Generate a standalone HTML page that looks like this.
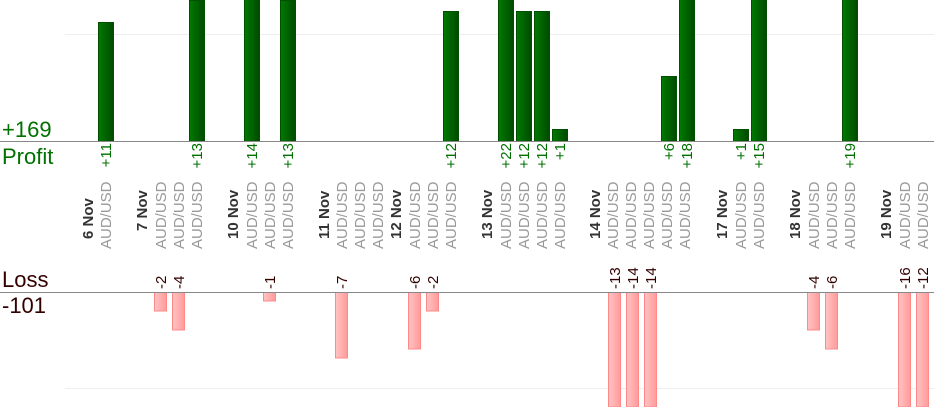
<!DOCTYPE html>
<html><head><meta charset="utf-8"><style>
html,body{margin:0;padding:0;background:#fff;}
svg{display:block;font-family:"Liberation Sans",sans-serif;}
</style></head><body>
<svg width="934" height="420" viewBox="0 0 934 420" xmlns="http://www.w3.org/2000/svg">
<defs>
<linearGradient id="g" x1="0" x2="1" y1="0" y2="0"><stop offset="0" stop-color="#007a00"/><stop offset="1" stop-color="#004a00"/></linearGradient>
<linearGradient id="r" x1="0" x2="1" y1="0" y2="0"><stop offset="0" stop-color="#ffc4c4"/><stop offset="1" stop-color="#ff9a9a"/></linearGradient>
<clipPath id="top"><rect x="0" y="0" width="934" height="141"/></clipPath>
<clipPath id="bot"><rect x="0" y="292" width="934" height="115"/></clipPath>
</defs>
<line x1="65" y1="34.5" x2="934" y2="34.5" stroke="#eee"/>
<line x1="65" y1="388.5" x2="934" y2="388.5" stroke="#eee"/>
<g clip-path="url(#top)" fill="url(#g)" stroke="#005000" stroke-width="1">
<rect x="98.5" y="22.5" width="15" height="119"/>
<rect x="189.5" y="0.5" width="15" height="141"/>
<rect x="244.5" y="-2" width="15" height="144"/>
<rect x="280.5" y="0.5" width="15" height="141"/>
<rect x="443.5" y="11.5" width="15" height="130"/>
<rect x="498.5" y="-2" width="15" height="144"/>
<rect x="516.5" y="11.5" width="15" height="130"/>
<rect x="534.5" y="11.5" width="15" height="130"/>
<rect x="552.5" y="129.5" width="15" height="12"/>
<rect x="661.5" y="76.5" width="15" height="65"/>
<rect x="679.5" y="-2" width="15" height="144"/>
<rect x="733.5" y="129.5" width="15" height="12"/>
<rect x="751.5" y="-2" width="15" height="144"/>
<rect x="842.5" y="-2" width="15" height="144"/>
</g>
<g clip-path="url(#bot)" fill="url(#r)" stroke="#ff8888" stroke-width="1">
<rect x="154.5" y="291" width="12" height="20"/>
<rect x="172.5" y="291" width="12" height="39"/>
<rect x="263.5" y="291" width="12" height="10"/>
<rect x="335.5" y="291" width="12" height="67"/>
<rect x="408.5" y="291" width="12" height="58"/>
<rect x="426.5" y="291" width="12" height="20"/>
<rect x="608.5" y="291" width="12" height="116"/>
<rect x="626.5" y="291" width="12" height="116"/>
<rect x="644.5" y="291" width="12" height="116"/>
<rect x="807.5" y="291" width="12" height="39"/>
<rect x="825.5" y="291" width="12" height="58"/>
<rect x="898.5" y="291" width="12" height="116"/>
<rect x="916.5" y="291" width="12" height="116"/>
</g>
<line x1="0" y1="141.5" x2="934" y2="141.5" stroke="#888"/>
<line x1="0" y1="292.5" x2="934" y2="292.5" stroke="#888"/>
<text x="2" y="137" font-size="22" fill="#007000">+169</text>
<text x="2" y="164" font-size="22" fill="#007000">Profit</text>
<text x="2" y="287" font-size="22" fill="#300">Loss</text>
<text x="2" y="313" font-size="22" fill="#300">-101</text>
<g font-size="15" fill="#007000" text-anchor="end">
<text transform="translate(111,143) rotate(-90)">+11</text>
<text transform="translate(202,143) rotate(-90)">+13</text>
<text transform="translate(257,143) rotate(-90)">+14</text>
<text transform="translate(293,143) rotate(-90)">+13</text>
<text transform="translate(456,143) rotate(-90)">+12</text>
<text transform="translate(511,143) rotate(-90)">+22</text>
<text transform="translate(529,143) rotate(-90)">+12</text>
<text transform="translate(547,143) rotate(-90)">+12</text>
<text transform="translate(565,143) rotate(-90)">+1</text>
<text transform="translate(674,143) rotate(-90)">+6</text>
<text transform="translate(692,143) rotate(-90)">+18</text>
<text transform="translate(746,143) rotate(-90)">+1</text>
<text transform="translate(764,143) rotate(-90)">+15</text>
<text transform="translate(855,143) rotate(-90)">+19</text>
</g>
<g font-size="15" fill="#300" text-anchor="start">
<text transform="translate(166,289) rotate(-90)">-2</text>
<text transform="translate(184,289) rotate(-90)">-4</text>
<text transform="translate(275,289) rotate(-90)">-1</text>
<text transform="translate(347,289) rotate(-90)">-7</text>
<text transform="translate(420,289) rotate(-90)">-6</text>
<text transform="translate(438,289) rotate(-90)">-2</text>
<text transform="translate(620,289) rotate(-90)">-13</text>
<text transform="translate(638,289) rotate(-90)">-14</text>
<text transform="translate(656,289) rotate(-90)">-14</text>
<text transform="translate(819,289) rotate(-90)">-4</text>
<text transform="translate(837,289) rotate(-90)">-6</text>
<text transform="translate(910,289) rotate(-90)">-16</text>
<text transform="translate(928,289) rotate(-90)">-12</text>
</g>
<g font-size="15" font-weight="bold" fill="#333" text-anchor="start">
<text transform="translate(93,239) rotate(-90)">6 Nov</text>
<text transform="translate(147,231) rotate(-90)">7 Nov</text>
<text transform="translate(238,239) rotate(-90)">10 Nov</text>
<text transform="translate(329,239) rotate(-90)">11 Nov</text>
<text transform="translate(401,239) rotate(-90)">12 Nov</text>
<text transform="translate(492,239) rotate(-90)">13 Nov</text>
<text transform="translate(600,239) rotate(-90)">14 Nov</text>
<text transform="translate(727,239) rotate(-90)">17 Nov</text>
<text transform="translate(800,239) rotate(-90)">18 Nov</text>
<text transform="translate(891,239) rotate(-90)">19 Nov</text>
</g>
<g font-size="15" fill="#999" text-anchor="start">
<text transform="translate(111,249) rotate(-90)">AUD/USD</text>
<text transform="translate(166,249) rotate(-90)">AUD/USD</text>
<text transform="translate(184,249) rotate(-90)">AUD/USD</text>
<text transform="translate(202,249) rotate(-90)">AUD/USD</text>
<text transform="translate(257,249) rotate(-90)">AUD/USD</text>
<text transform="translate(275,249) rotate(-90)">AUD/USD</text>
<text transform="translate(293,249) rotate(-90)">AUD/USD</text>
<text transform="translate(347,249) rotate(-90)">AUD/USD</text>
<text transform="translate(365,249) rotate(-90)">AUD/USD</text>
<text transform="translate(383,249) rotate(-90)">AUD/USD</text>
<text transform="translate(420,249) rotate(-90)">AUD/USD</text>
<text transform="translate(438,249) rotate(-90)">AUD/USD</text>
<text transform="translate(456,249) rotate(-90)">AUD/USD</text>
<text transform="translate(511,249) rotate(-90)">AUD/USD</text>
<text transform="translate(529,249) rotate(-90)">AUD/USD</text>
<text transform="translate(547,249) rotate(-90)">AUD/USD</text>
<text transform="translate(565,249) rotate(-90)">AUD/USD</text>
<text transform="translate(618,249) rotate(-90)">AUD/USD</text>
<text transform="translate(636,249) rotate(-90)">AUD/USD</text>
<text transform="translate(654,249) rotate(-90)">AUD/USD</text>
<text transform="translate(672,249) rotate(-90)">AUD/USD</text>
<text transform="translate(690,249) rotate(-90)">AUD/USD</text>
<text transform="translate(746,249) rotate(-90)">AUD/USD</text>
<text transform="translate(764,249) rotate(-90)">AUD/USD</text>
<text transform="translate(819,249) rotate(-90)">AUD/USD</text>
<text transform="translate(837,249) rotate(-90)">AUD/USD</text>
<text transform="translate(855,249) rotate(-90)">AUD/USD</text>
<text transform="translate(910,249) rotate(-90)">AUD/USD</text>
<text transform="translate(928,249) rotate(-90)">AUD/USD</text>
</g>
</svg>
</body></html>
